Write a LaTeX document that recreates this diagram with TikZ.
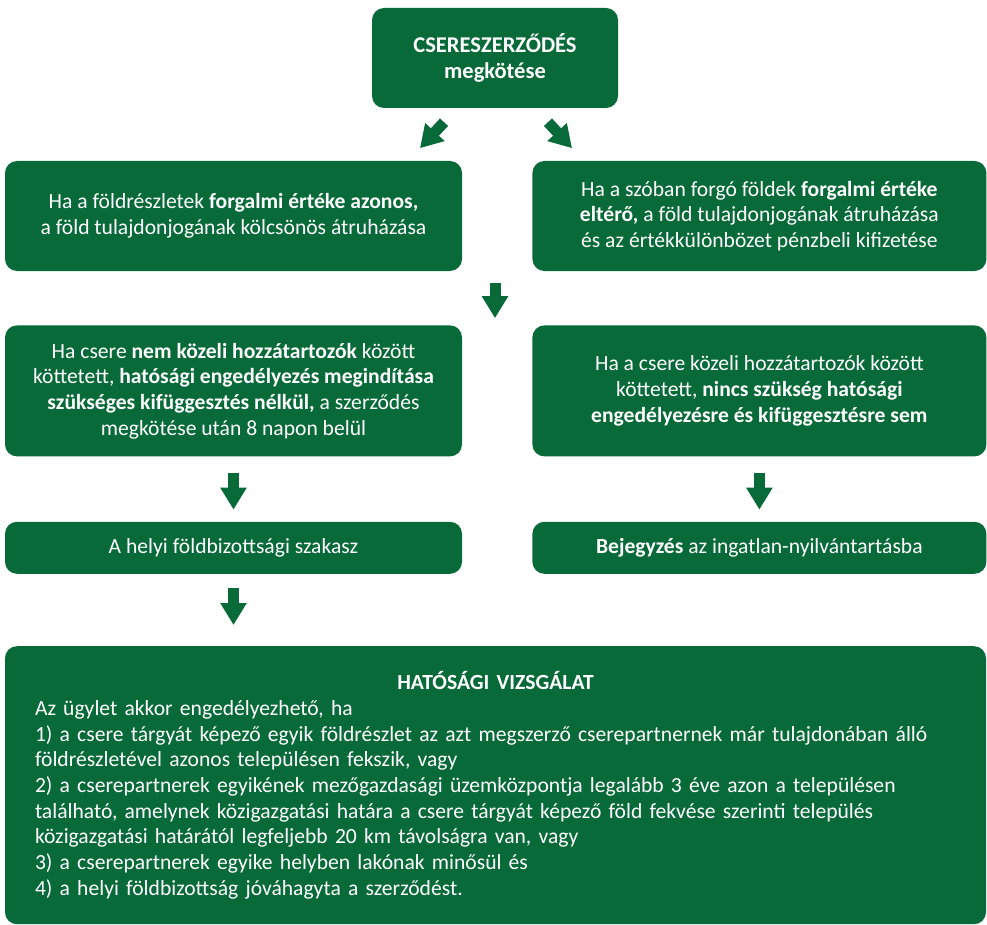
\documentclass[tikz,border=0pt]{standalone}
\usepackage{fontspec}
\setmainfont{Carlito}
\usepackage{tikz}
\usetikzlibrary{arrows.meta,positioning,calc}
\definecolor{Leaf}{HTML}{076A38}
\tikzset{
  box/.style={fill=Leaf, rounded corners=12pt, align=center, text=white, inner sep=6pt, font=\fontsize{21.6pt}{25.7pt}\selectfont},
  flow/.style={draw=Leaf, line width=11pt, -{Triangle[length=22pt, width=25pt]}}
}
\begin{document}
\begin{tikzpicture}[node distance=70pt]
  \useasboundingbox (0,0) rectangle (987pt,-925pt);
  \node[box, minimum width=246pt, minimum height=100pt, font=\fontsize{22.5pt}{25.7pt}\selectfont\bfseries] (top) at (495pt,-58pt) {CSERESZERZŐDÉS\\megkötése};

  \node[box, minimum width=457pt, minimum height=110pt] (l1) at (233.5pt,-216pt) {Ha a földrészletek \textbf{forgalmi értéke azonos,}\\a föld tulajdonjogának kölcsönös átruházása};
  \node[box, right=of l1, minimum width=454pt, minimum height=110pt] (r1) {Ha a szóban forgó földek \textbf{forgalmi értéke}\\\textbf{eltérő,} a föld tulajdonjogának átruházása\\és az értékkülönbözet pénzbeli kifizetése};
  \coordinate (a1) at ($(top.south)+(-51pt,-14pt)$);
  \coordinate (b1) at ($(top.south)+(-75pt,-40pt)$);
  \coordinate (a2) at ($(top.south)+(53pt,-14pt)$);
  \coordinate (b2) at ($(top.south)+(77pt,-40pt)$);
  \draw[flow] (a1) -- (b1);
  \draw[flow] (a2) -- (b2);

  \node[box, below=54pt of l1, minimum width=457pt, minimum height=131pt] (l2) {Ha csere \textbf{nem közeli hozzátartozók} között\\köttetett, \textbf{hatósági engedélyezés megindítása}\\\textbf{szükséges kifüggesztés nélkül,} a szerződés\\megkötése után 8 napon belül};
  \node[box, right=of l2, minimum width=454pt, minimum height=131pt] (r2) {Ha a csere közeli hozzátartozók között\\köttetett, \textbf{nincs szükség hatósági}\\\textbf{engedélyezésre és kifüggesztésre sem}};
  \draw[flow, shorten <=12pt, shorten >=7pt] (l1.south -| top) -- (l2.north -| top);

  \node[box, below=65pt of l2, minimum width=457pt, minimum height=52pt] (l3) {A helyi földbizottsági szakasz};
  \node[box, right=of l3, minimum width=454pt, minimum height=52pt] (r3) {\textbf{Bejegyzés} az ingatlan-nyilvántartásba};
  \draw[flow, shorten <=16pt, shorten >=12pt] (l2) -- (l3);
  \draw[flow, shorten <=16pt, shorten >=12pt] (r2) -- (r3);

  \node[box, below=72pt of l3.south west, anchor=north west, minimum width=981pt, minimum height=278pt, text width=921pt, align=left] (exam) {{\centering\textbf{HATÓSÁGI VIZSGÁLAT}\par}
    Az ügylet akkor engedélyezhető, ha\\
    1) a csere tárgyát képező egyik földrészlet az azt megszerző cserepartnernek már tulajdonában álló\\
    földrészletével azonos településen fekszik, vagy\\
    2) a cserepartnerek egyikének mezőgazdasági üzemközpontja legalább 3 éve azon a településen\\
    található, amelynek közigazgatási határa a csere tárgyát képező föld fekvése szerinti település\\
    közigazgatási határától legfeljebb 20 km távolságra van, vagy\\
    3) a cserepartnerek egyike helyben lakónak minősül és\\
    4) a helyi földbizottság jóváhagyta a szerződést.};
  \draw[flow, shorten <=14pt, shorten >=21pt] (l3) -- (l3 |- exam.north);
\end{tikzpicture}
\end{document}
